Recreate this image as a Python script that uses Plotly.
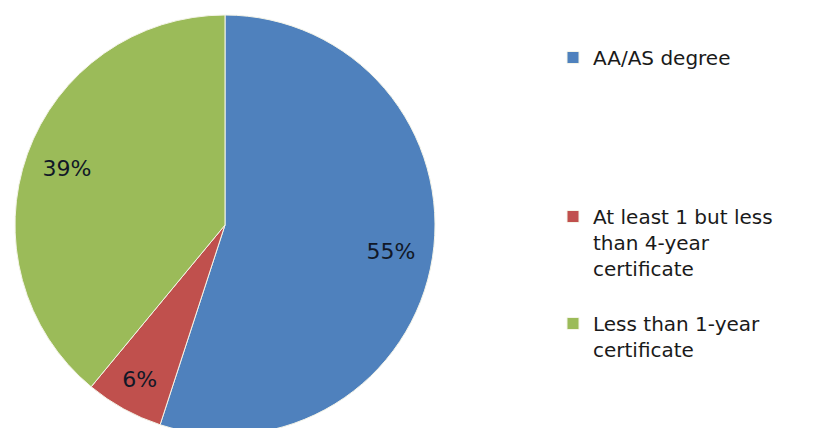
import plotly.graph_objects as go

# Share of completers by credential type
categories = [
    "AA/AS degree",
    "At least 1 but less than 4-year certificate",
    "Less than 1-year certificate",
]
shares = [55, 6, 39]
colors = ["#4F81BD", "#C0504D", "#9BBB59"]

# Legend text wrapped the way the chart shows it; blank lines pad the gaps
legend_labels = [
    "AA/AS degree<br> <br> <br> <br> <br> ",
    "At least 1 but less<br>than 4-year<br>certificate<br> ",
    "Less than 1-year<br>certificate",
]

W, H = 821, 440
pie_domain = dict(x=[15 / W, 435 / W], y=[(H - 435) / H, (H - 15) / H])

fig = go.Figure()

# Filled slices
fig.add_trace(
    go.Pie(
        labels=legend_labels,
        values=shares,
        sort=False,
        direction="clockwise",
        rotation=0,
        marker=dict(colors=colors, line=dict(color="#F4F4E8", width=1)),
        textinfo="none",
        hovertext=categories,
        hoverinfo="text+percent",
        domain=pie_domain,
    )
)

# Percentage labels, carried by a transparent ring so they sit near the rim
fig.add_trace(
    go.Pie(
        labels=legend_labels,
        values=shares,
        sort=False,
        direction="clockwise",
        rotation=0,
        hole=0.6,
        marker=dict(colors=["rgba(0,0,0,0)"] * 3, line=dict(width=0)),
        texttemplate="%{percent:.0%}",
        textposition="inside",
        insidetextorientation="horizontal",
        textfont=dict(family="DejaVu Sans", size=22, color="#111827"),
        hoverinfo="skip",
        showlegend=False,
        domain=pie_domain,
    )
)

fig.update_layout(
    width=W,
    height=H,
    margin=dict(l=0, r=0, t=0, b=0),
    paper_bgcolor="white",
    plot_bgcolor="white",
    showlegend=True,
    legend=dict(
        x=553 / W,
        xanchor="left",
        y=(H - 38) / H,
        yanchor="top",
        valign="top",
        font=dict(family="DejaVu Sans", size=20, color="#1a1a1a"),
        bgcolor="rgba(0,0,0,0)",
        borderwidth=0,
    ),
)

fig.write_html("out.html")
